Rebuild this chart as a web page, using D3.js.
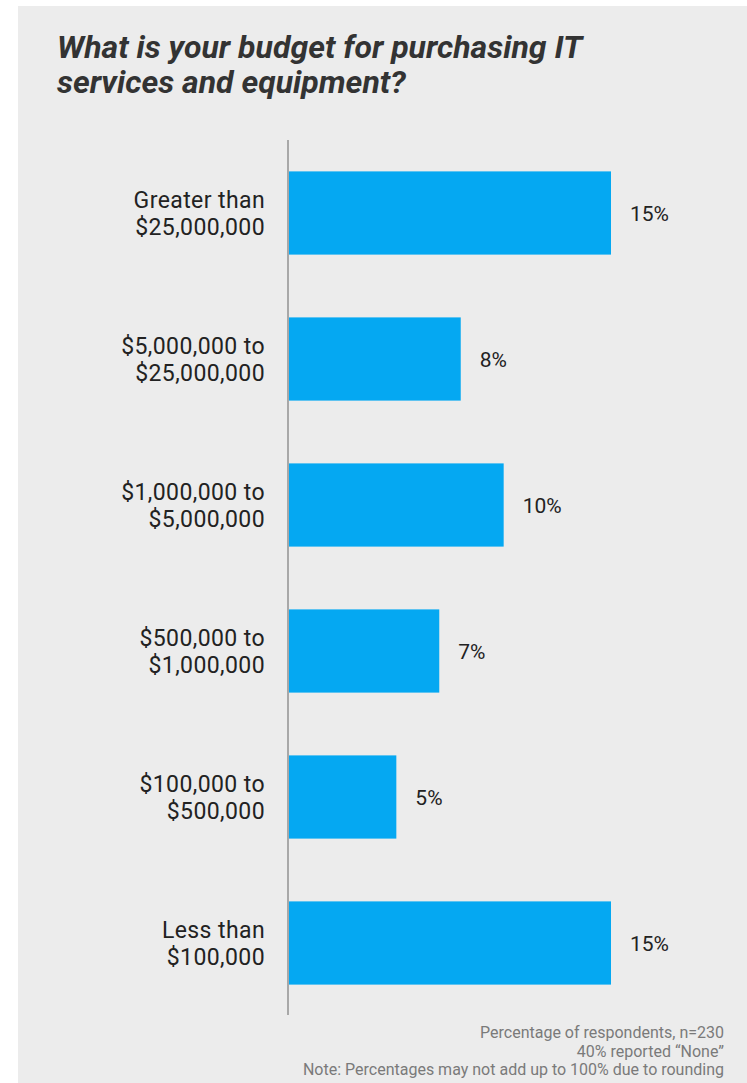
<!DOCTYPE html>
<html>
<head>
<meta charset="utf-8">
<script src="https://cdn.jsdelivr.net/npm/d3@7"></script>
<style>
  html, body { margin: 0; padding: 0; background: #ffffff; }
  svg { display: block; font-family: Roboto, "Noto Sans", sans-serif; }
</style>
</head>
<body>
<svg id="chart" width="747" height="1083"></svg>
<script>
// Budget brackets (two-line labels) and share of respondents, in percent
const categories = [
  ["Greater than", "$25,000,000"],
  ["$5,000,000 to", "$25,000,000"],
  ["$1,000,000 to", "$5,000,000"],
  ["$500,000 to", "$1,000,000"],
  ["$100,000 to", "$500,000"],
  ["Less than", "$100,000"]
];
const values = [15, 8, 10, 7, 5, 15];
const titleLines = ["What is your budget for purchasing IT", "services and equipment?"];
const notes = [
  "Percentage of respondents, n=230",
  "40% reported \u201cNone\u201d",
  "Note: Percentages may not add up to 100% due to rounding"
];

const svg = d3.select("#chart");

// Light panel behind everything
svg.append("rect")
  .attr("x", 18).attr("y", 6)
  .attr("width", 729).attr("height", 1077)
  .attr("fill", "#ececec");

// Title
svg.append("text")
  .attr("x", 57).attr("y", 57.5)
  .attr("font-size", 32).attr("font-weight", 700).attr("font-style", "italic")
  .attr("fill", "#333333")
  .selectAll("tspan").data(titleLines).join("tspan")
  .attr("x", 57).attr("dy", (d, i) => i === 0 ? 0 : 35.5)
  .text(d => d);

const plot = { left: 289, top: 140, bottom: 1015 };

const keys = categories.map(d => d.join(" "));
const y = d3.scaleBand().domain(keys).range([140, 1016]).paddingInner(0.43).paddingOuter(0.215);
const x = d3.scaleLinear().domain([0, 15]).range([plot.left, 611]);

// Bars
svg.append("g").selectAll("rect").data(values).join("rect")
  .attr("x", x(0))
  .attr("y", (d, i) => y(keys[i]))
  .attr("width", d => x(d) - x(0))
  .attr("height", y.bandwidth())
  .attr("fill", "#05a8f2");

// Value labels
svg.append("g").selectAll("text").data(values).join("text")
  .attr("x", d => x(d) + 19)
  .attr("y", (d, i) => y(keys[i]) + y.bandwidth() / 2 + 8)
  .attr("font-size", 21).attr("fill", "#222222")
  .text(d => d + "%");

// Category labels, two lines each
const cat = svg.append("g").selectAll("text").data(categories).join("text")
  .attr("text-anchor", "end")
  .attr("font-size", 23).attr("letter-spacing", 0.4).attr("fill", "#222222")
  .attr("y", (d, i) => y(keys[i]) + y.bandwidth() / 2 - 5);
cat.selectAll("tspan").data(d => d).join("tspan")
  .attr("x", 265)
  .attr("dy", (d, i) => i === 0 ? 0 : 26.5)
  .text(d => d);

// Vertical baseline axis
svg.append("line")
  .attr("x1", 288).attr("x2", 288)
  .attr("y1", plot.top).attr("y2", plot.bottom)
  .attr("stroke", "#a8a8a8").attr("stroke-width", 2);

// Footnotes
svg.append("g").selectAll("text").data(notes).join("text")
  .attr("x", 724)
  .attr("y", (d, i) => 1038 + i * 18.5)
  .attr("text-anchor", "end")
  .attr("font-size", 16).attr("fill", "#7a7a7a")
  .text(d => d);
</script>
</body>
</html>
